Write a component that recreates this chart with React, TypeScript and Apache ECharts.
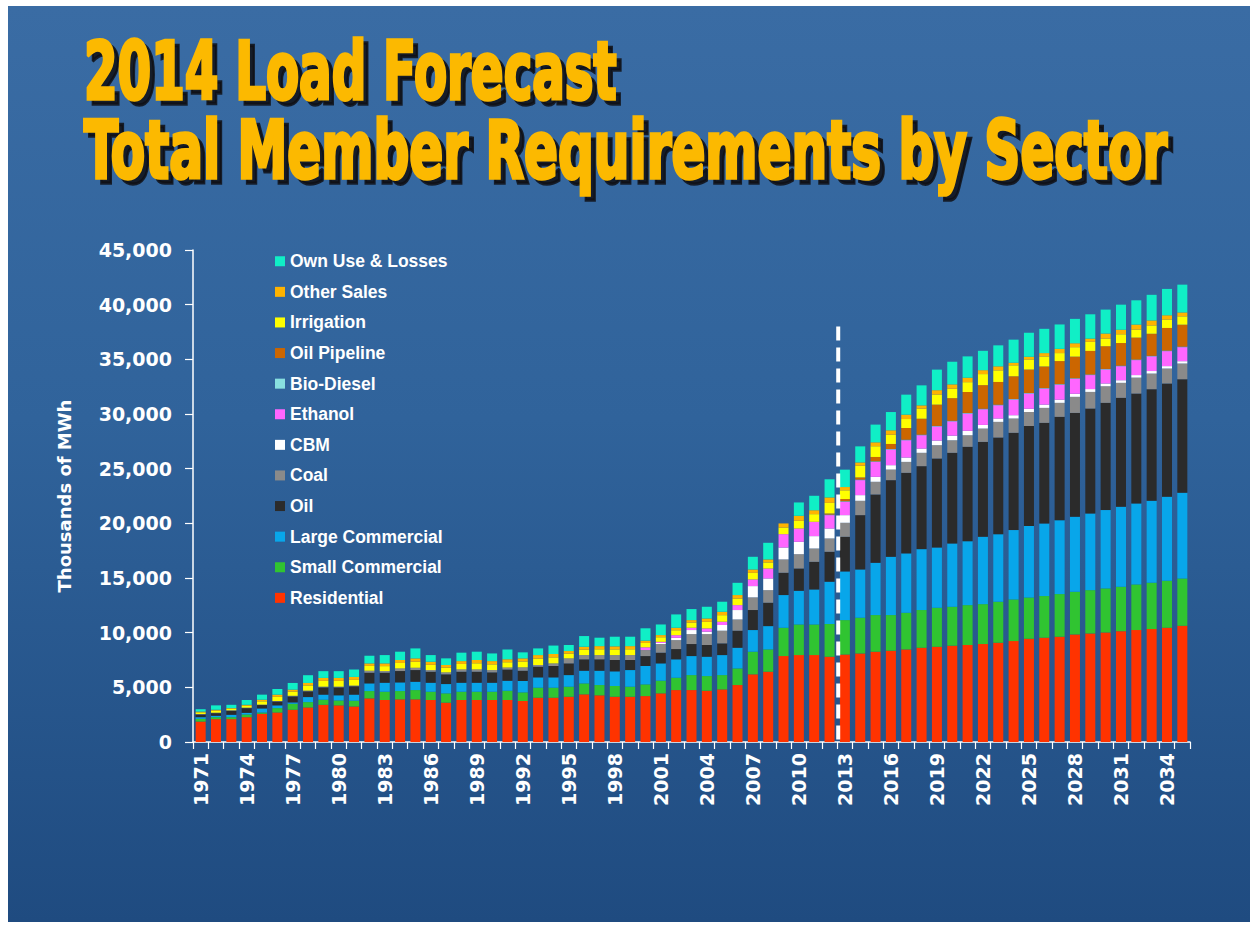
import React, { useEffect, useRef } from 'react';
import * as echarts from 'echarts';

const years = [
  '1971','1972','1973','1974','1975','1976','1977','1978','1979','1980',
  '1981','1982','1983','1984','1985','1986','1987','1988','1989','1990',
  '1991','1992','1993','1994','1995','1996','1997','1998','1999','2000',
  '2001','2002','2003','2004','2005','2006','2007','2008','2009','2010',
  '2011','2012','2013','2014','2015','2016','2017','2018','2019','2020',
  '2021','2022','2023','2024','2025','2026','2027','2028','2029','2030',
  '2031','2032','2033','2034','2035',
];

const residential = [
  1870,2090,2090,2270,2580,2700,2950,3160,3400,3350,
  3250,3990,3840,3900,3900,3840,3600,3840,3840,3840,
  3840,3750,4050,4050,4140,4360,4270,4140,4140,4200,
  4450,4750,4750,4690,4810,5210,6190,6430,7860,7950,
  7950,7800,8000,8100,8260,8350,8470,8620,8710,8810,
  8870,8960,9080,9230,9450,9540,9630,9840,9930,10020,
  10140,10240,10330,10450,10630,
];
const smallCommercial = [
  250,180,180,250,120,400,550,490,470,450,
  530,670,760,760,850,760,850,760,760,760,
  850,790,920,920,920,1000,940,980,920,1070,
  1160,1130,1370,1340,1310,1520,2070,2040,2590,2800,
  2800,2990,3150,3270,3350,3260,3350,3450,3570,3560,
  3650,3650,3750,3810,3760,3810,3900,3900,3960,4030,
  4060,4170,4240,4300,4330,
];
const largeCommercial = [
  150,130,220,150,370,250,120,460,460,470,
  550,700,820,790,760,820,850,820,820,820,
  920,1040,940,940,1060,1160,1310,1340,1520,1680,
  1580,1680,1740,1770,1830,1890,1980,2130,2990,3080,
  3200,3870,4450,4410,4780,5330,5430,5570,5510,5790,
  5850,6160,6180,6340,6550,6640,6760,6860,7010,7160,
  7310,7410,7490,7680,7830,
];
const oil = [
  250,240,370,430,310,360,555,530,670,730,
  770,980,920,1040,1070,1010,890,1010,1010,950,
  1030,940,980,1040,1070,1040,1040,1040,920,910,
  980,940,1100,1070,1070,1560,1830,2140,2040,2040,
  2530,2740,3170,4970,6250,7010,7370,7590,8140,8290,
  8630,8680,8840,8900,9140,9200,9450,9500,9600,9810,
  9970,10050,10210,10360,10390,
];
const coal = [
  40,40,40,40,40,40,50,60,60,60,
  60,180,150,240,210,150,180,210,210,210,
  180,310,150,240,460,390,390,450,450,550,
  790,820,910,1000,1160,1030,1160,1150,1220,1310,
  1220,1220,1280,1310,1160,970,1000,1220,1220,1150,
  1060,1220,1430,1310,1280,1370,1280,1470,1520,1520,
  1370,1460,1430,1370,1440,
];
const cbm = [
  0,0,0,0,0,0,0,0,0,0,
  0,0,0,0,0,0,0,0,0,0,
  0,0,0,0,0,0,0,0,0,0,
  100,210,370,220,520,860,1030,1070,1090,1130,
  1130,910,700,520,450,400,400,390,420,420,
  400,330,310,300,300,300,290,280,260,250,
  240,230,230,220,210,
];
const ethanol = [
  0,0,0,0,0,0,0,0,0,0,
  0,0,0,0,0,0,0,0,0,0,
  0,0,0,0,0,0,0,0,0,250,
  100,240,210,300,300,450,610,910,1220,1220,
  1310,1220,1220,1370,1370,1430,1580,1220,1290,1310,
  1580,1430,1210,1430,1400,1460,1370,1370,1280,1280,
  1280,1370,1340,1370,1280,
];
const bioDiesel = [
  0,0,0,0,0,0,0,0,0,0,
  0,0,0,0,0,0,0,0,0,0,
  0,0,0,0,0,0,0,0,0,0,
  0,0,0,0,0,0,0,0,0,0,
  0,50,50,50,50,50,50,50,50,50,
  50,50,50,50,50,50,50,50,50,50,
  50,50,50,50,50,
];
const oilPipeline = [
  0,0,0,0,0,0,0,0,0,0,
  0,0,0,0,0,0,0,0,0,0,
  0,0,0,0,0,0,0,0,0,0,
  0,0,0,0,0,0,0,0,0,0,
  0,100,200,200,400,460,1070,1460,1950,2070,
  1920,2160,2080,2080,2130,1980,2110,1980,2160,2080,
  2070,2010,2020,2070,2010,
];
const irrigation = [
  150,190,140,180,300,380,380,470,530,530,
  520,440,450,500,550,480,430,500,560,520,
  480,530,590,550,430,490,530,520,530,400,
  420,450,470,600,600,600,600,550,600,700,
  700,970,800,1070,980,850,820,920,920,860,
  900,1010,1060,1000,920,910,730,860,830,700,
  800,730,760,770,760,
];
const otherSales = [
  70,80,60,80,150,200,185,230,270,270,
  270,230,250,270,310,280,240,260,300,300,
  260,290,320,310,240,270,290,280,290,210,
  200,230,230,310,310,320,310,280,380,460,
  360,500,300,300,360,400,400,300,400,400,
  410,360,370,240,250,310,390,360,300,460,
  420,460,460,390,360,
];
const ownUse = [
  220,400,300,440,460,520,610,710,620,620,
  680,700,760,760,910,610,610,770,760,700,
  910,550,610,770,550,980,770,880,860,1130,
  970,1220,1010,1070,920,1120,1160,1520,0,1220,
  1320,1660,1590,1470,1620,1670,1830,1830,1880,2070,
  1950,1770,1920,2110,2190,2220,2230,2230,2220,2190,
  2290,2220,2340,2410,2540,
];

const yTicks = { min: 0, max: 45000, interval: 5000 };

const sectors = [
  { name: 'Residential', data: residential, color: '#ff3300' },
  { name: 'Small Commercial', data: smallCommercial, color: '#30c431' },
  { name: 'Large Commercial', data: largeCommercial, color: '#08a6ea' },
  { name: 'Oil', data: oil, color: '#2b2b2b' },
  { name: 'Coal', data: coal, color: '#8a8a8a' },
  { name: 'CBM', data: cbm, color: '#ffffff' },
  { name: 'Ethanol', data: ethanol, color: '#ff66ff' },
  { name: 'Bio-Diesel', data: bioDiesel, color: '#88e0e0' },
  { name: 'Oil Pipeline', data: oilPipeline, color: '#cc6600' },
  { name: 'Irrigation', data: irrigation, color: '#ffff00' },
  { name: 'Other Sales', data: otherSales, color: '#ffb300' },
  { name: 'Own Use & Losses', data: ownUse, color: '#10efc6' },
];

const titleLine1 = '2014 Load Forecast';
const titleLine2 = 'Total Member Requirements by Sector';

export default function App() {
  const ref = useRef<HTMLDivElement>(null);

  useEffect(() => {
    if (!ref.current) return;
    const chart = echarts.init(ref.current, null, { renderer: 'svg' });

    const titleFont = "'DejaVu Sans Condensed', 'Liberation Sans Narrow', 'DejaVu Sans', sans-serif";
    const titleSize = 80;
    const ctx = document.createElement('canvas').getContext('2d') as CanvasRenderingContext2D;
    const measure = (t: string) => {
      ctx.font = `bold ${titleSize}px ${titleFont}`;
      return ctx.measureText(t).width || 1;
    };
    const s1 = 533 / measure(titleLine1);
    const s2 = 1083 / measure(titleLine2);

    const titleText = (id: string, text: string, x: number, y: number, sx: number, fill: string, z: number) => ({
      type: 'text',
      id,
      x,
      y,
      scaleX: sx,
      z,
      silent: true,
      style: {
        text,
        fill,
        stroke: fill,
        lineWidth: 3.5,
        font: `bold ${titleSize}px ${titleFont}`,
        textAlign: 'left',
        textVerticalAlign: 'middle',
        verticalAlign: 'middle',
      },
    });

    chart.setOption({
      animation: false,
      grid: { left: 193, right: 65, top: 250, bottom: 196, containLabel: false },
      legend: {
        orient: 'vertical',
        left: 275,
        top: 252.25,
        padding: 0,
        itemWidth: 10,
        itemHeight: 10,
        itemGap: 12.6,
        icon: 'rect',
        selectedMode: false,
        textStyle: { color: '#ffffff', fontSize: 17.5, fontWeight: 'bold', fontFamily: 'Liberation Sans, Arial, sans-serif' },
        data: sectors.map((s) => s.name).reverse(),
      },
      xAxis: {
        type: 'category',
        data: years,
        boundaryGap: true,
        axisLine: { lineStyle: { color: '#ffffff', width: 1.5 } },
        axisTick: { show: true, interval: 0, length: 7, lineStyle: { color: '#ffffff', width: 1.2 } },
        axisLabel: {
          interval: 2,
          rotate: 90,
          color: '#ffffff',
          fontSize: 19,
          fontWeight: 'bold',
          fontFamily: 'DejaVu Sans, sans-serif',
          margin: 11,
        },
        splitLine: { show: false },
      },
      yAxis: {
        type: 'value',
        min: yTicks.min,
        max: yTicks.max,
        interval: yTicks.interval,
        name: 'Thousands of MWh',
        nameLocation: 'middle',
        nameRotate: 90,
        nameGap: 120,
        nameTextStyle: { color: '#ffffff', fontSize: 18, fontWeight: 'bold', fontFamily: 'DejaVu Sans, sans-serif' },
        axisLine: { show: true, lineStyle: { color: '#ffffff', width: 1.5 } },
        axisTick: { show: true, length: 8, lineStyle: { color: '#ffffff', width: 1.2 } },
        axisLabel: {
          color: '#ffffff',
          fontSize: 19,
          fontWeight: 'bold',
          fontFamily: 'DejaVu Sans, sans-serif',
          margin: 21,
        },
        splitLine: { show: false },
      },
      series: sectors.map((s) => ({
        name: s.name,
        type: 'bar',
        stack: 'total',
        data: s.data,
        barWidth: 10,
        silent: true,
        itemStyle: { color: s.color },
      })),
      graphic: {
        elements: [
          {
            type: 'rect',
            id: 'bg',
            z: -100,
            silent: true,
            shape: { x: 8, y: 6, width: 1242, height: 916 },
            style: {
              fill: new echarts.graphic.LinearGradient(0, 0, 0, 1, [
                { offset: 0, color: '#3a6ca4' },
                { offset: 0.45, color: '#30639b' },
                { offset: 1, color: '#1f4b80' },
              ]),
            },
          },
          titleText('t1s', titleLine1, 89, 76, s1, 'rgba(15,15,20,0.85)', 90),
          titleText('t1', titleLine1, 84, 71, s1, '#fcb900', 91),
          titleText('t2s', titleLine2, 89, 155, s2, 'rgba(15,15,20,0.85)', 90),
          titleText('t2', titleLine2, 84, 150, s2, '#fcb900', 91),
        ],
      },
    });

    const x12 = chart.convertToPixel({ xAxisIndex: 0 }, '2012') as number;
    const x13 = chart.convertToPixel({ xAxisIndex: 0 }, '2013') as number;
    const xm = (x12 + x13) / 2 + 1;
    const yTop = chart.convertToPixel({ yAxisIndex: 0 }, 38000) as number;
    const yBot = chart.convertToPixel({ yAxisIndex: 0 }, 0) as number;
    chart.setOption({
      graphic: {
        elements: [
          {
            type: 'line',
            id: 'forecastDivider',
            z: 100,
            silent: true,
            shape: { x1: xm, y1: yTop, x2: xm, y2: yBot },
            style: { stroke: '#ffffff', lineWidth: 4, lineDash: [14, 7] },
          },
        ],
      },
    });

    return () => {
      chart.dispose();
    };
  }, []);

  return (
    <div
      ref={ref}
      style={{ position: 'absolute', left: 0, top: 0, width: 1255, height: 938 }}
    />
  );
}
